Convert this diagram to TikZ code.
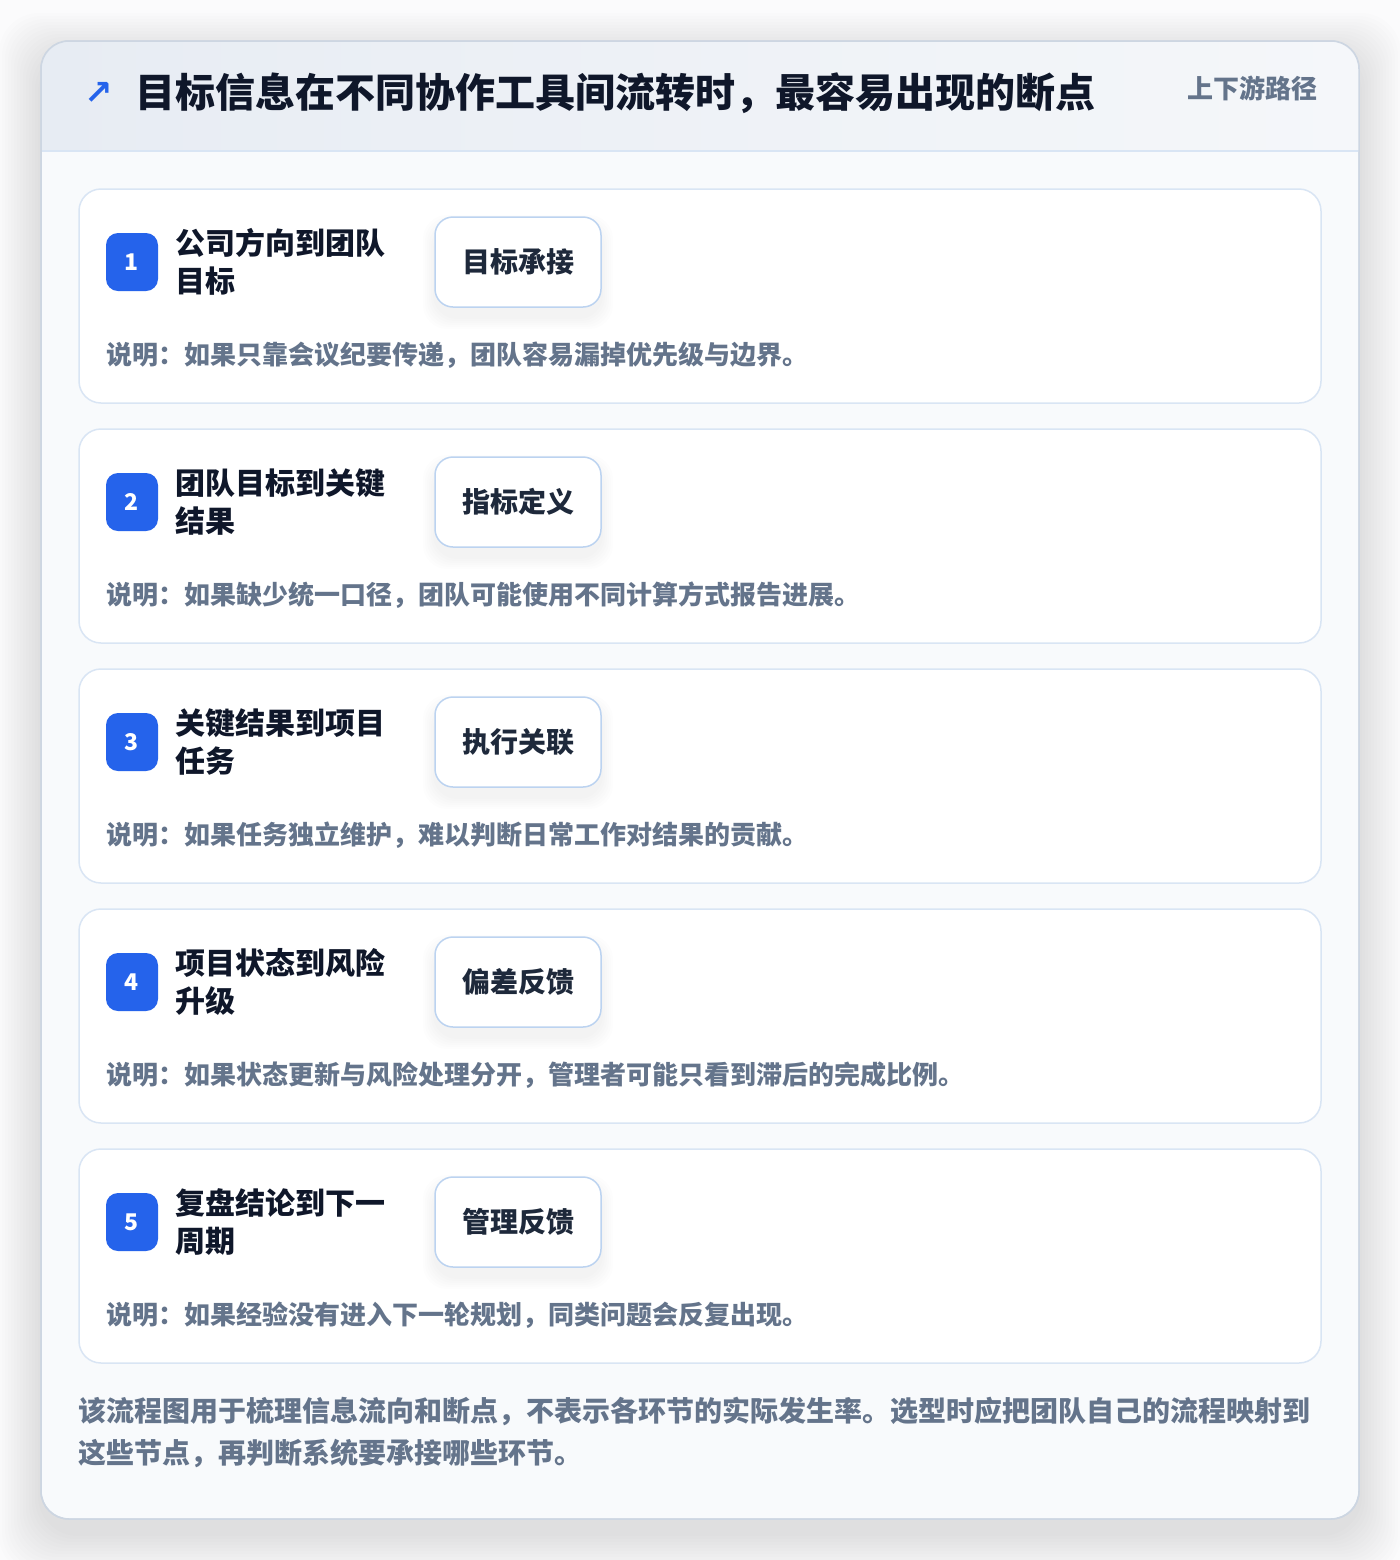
\documentclass[tikz,border=0pt]{standalone}
\usepackage{fontspec}
\newfontfamily\cjk{Noto Sans CJK SC}
\newfontfamily\symfont{DejaVu Sans}
\usepackage{tikz}
\definecolor{accent}{HTML}{2563EB}
\definecolor{ink}{HTML}{0F172A}
\definecolor{tagink}{HTML}{1E293B}
\definecolor{slate}{HTML}{64748B}
\definecolor{cardline}{HTML}{D9E5F4}
\definecolor{tagline}{HTML}{BCD3F0}
\definecolor{outerline}{HTML}{CDD6E2}
\definecolor{bodyfill}{HTML}{F8FAFC}
\definecolor{headleft}{HTML}{E7ECF3}
\definecolor{headright}{HTML}{F5F7FA}
\definecolor{pagebg}{HTML}{FBFBFC}

\tikzset{
  stepcard/.style={draw=cardline, line width=0.75pt, fill=white, rounded corners=11pt,
    minimum width=621pt, minimum height=107pt, inner sep=0pt},
  badge/.style={fill=accent, rounded corners=6pt, minimum width=26pt, minimum height=29pt,
    inner sep=0pt, text=white, font=\cjk\bfseries\fontsize{11.5}{13}\selectfont},
  steptitle/.style={anchor=west, inner sep=0pt, align=left, text=ink,
    font=\cjk\bfseries\fontsize{15}{19}\selectfont},
  tagbox/.style={draw=tagline, line width=0.75pt, fill=white, rounded corners=9pt,
    minimum width=83pt, minimum height=45pt, inner sep=0pt, text=tagink,
    font=\cjk\bfseries\fontsize{14}{16}\selectfont},
  note/.style={anchor=west, inner sep=0pt, text=slate, font=\cjk\bfseries\fontsize{13}{16}\selectfont},
  softshadow/.style={fill=black, opacity=#1},
}

\begin{document}
\begin{tikzpicture}[x=0.5pt, y=-0.5pt]
  \useasboundingbox (0,0) rectangle (1400,1560);
  \fill[pagebg] (0,0) rectangle (1400,1560);

  % shadow of the card
  \foreach \r in {3,6,...,42}
    \fill[softshadow=0.007, rounded corners=20pt] (41-\r,41-\r+14) rectangle (1359+\r,1519+\r+14);

  % outer card and header
  \node[draw=outerline, line width=0.75pt, fill=bodyfill, rounded corners=14pt,
    minimum width=659pt, minimum height=739pt, inner sep=0pt] (outer) at (700,780) {};
  \begin{scope}
    \clip[rounded corners=14pt] (41,41) rectangle (1359,1519);
    \shade[left color=headleft, right color=headright] (41,41) rectangle (1359,151);
  \end{scope}
  \draw[cardline, line width=0.75pt] (41,151) -- (1359,151);
  \draw[outerline, line width=0.75pt, rounded corners=14pt] (41,41) rectangle (1359,1519);

  \node[text=accent, inner sep=0pt, font=\symfont\bfseries\fontsize{17}{20}\selectfont] (arrow) at (99,93) {↗};
  \node[anchor=west, inner sep=0pt, text=ink, font=\cjk\bfseries\fontsize{20}{24}\selectfont]
    (title) at (135,93) {目标信息在不同协作工具间流转时，最容易出现的断点};
  \node[anchor=east, inner sep=0pt, text=slate, font=\cjk\bfseries\fontsize{13}{16}\selectfont]
    (path) at (1318,88) {上下游路径};

  % step cards
  \node[stepcard] (card1) at (700,296) {};
  \node[stepcard] (card2) at (700,536) {};
  \node[stepcard] (card3) at (700,776) {};
  \node[stepcard] (card4) at (700,1016) {};
  \node[stepcard] (card5) at (700,1256) {};

  % shadows under the tags
  \foreach \y in {262,502,742,982,1222}
    \foreach \r in {2,4,...,12}
      \fill[softshadow=0.006, rounded corners=12pt] (435-\r,\y-45-\r+10) rectangle (601+\r,\y+45+\r+10);

  % step 1
  \node[badge] (num1) at (132,262) {1};
  \node[steptitle] (name1) at (175,262) {公司方向到团队\\目标};
  \node[tagbox] (tag1) at (518,262) {目标承接};
  \node[note] (note1) at (106,355) {说明：如果只靠会议纪要传递，团队容易漏掉优先级与边界。};

  % step 2
  \node[badge] (num2) at (132,502) {2};
  \node[steptitle] (name2) at (175,502) {团队目标到关键\\结果};
  \node[tagbox] (tag2) at (518,502) {指标定义};
  \node[note] (note2) at (106,595) {说明：如果缺少统一口径，团队可能使用不同计算方式报告进展。};

  % step 3
  \node[badge] (num3) at (132,742) {3};
  \node[steptitle] (name3) at (175,742) {关键结果到项目\\任务};
  \node[tagbox] (tag3) at (518,742) {执行关联};
  \node[note] (note3) at (106,835) {说明：如果任务独立维护，难以判断日常工作对结果的贡献。};

  % step 4
  \node[badge] (num4) at (132,982) {4};
  \node[steptitle] (name4) at (175,982) {项目状态到风险\\升级};
  \node[tagbox] (tag4) at (518,982) {偏差反馈};
  \node[note] (note4) at (106,1075) {说明：如果状态更新与风险处理分开，管理者可能只看到滞后的完成比例。};

  % step 5
  \node[badge] (num5) at (132,1222) {5};
  \node[steptitle] (name5) at (175,1222) {复盘结论到下一\\周期};
  \node[tagbox] (tag5) at (518,1222) {管理反馈};
  \node[note] (note5) at (106,1315) {说明：如果经验没有进入下一轮规划，同类问题会反复出现。};

  % footer
  \node[anchor=west, inner sep=0pt, align=left, text=slate, font=\cjk\bfseries\fontsize{14}{21}\selectfont]
    (foot) at (78,1432) {该流程图用于梳理信息流向和断点，不表示各环节的实际发生率。选型时应把团队自己的流程映射到\\这些节点，再判断系统要承接哪些环节。};
\end{tikzpicture}
\end{document}
